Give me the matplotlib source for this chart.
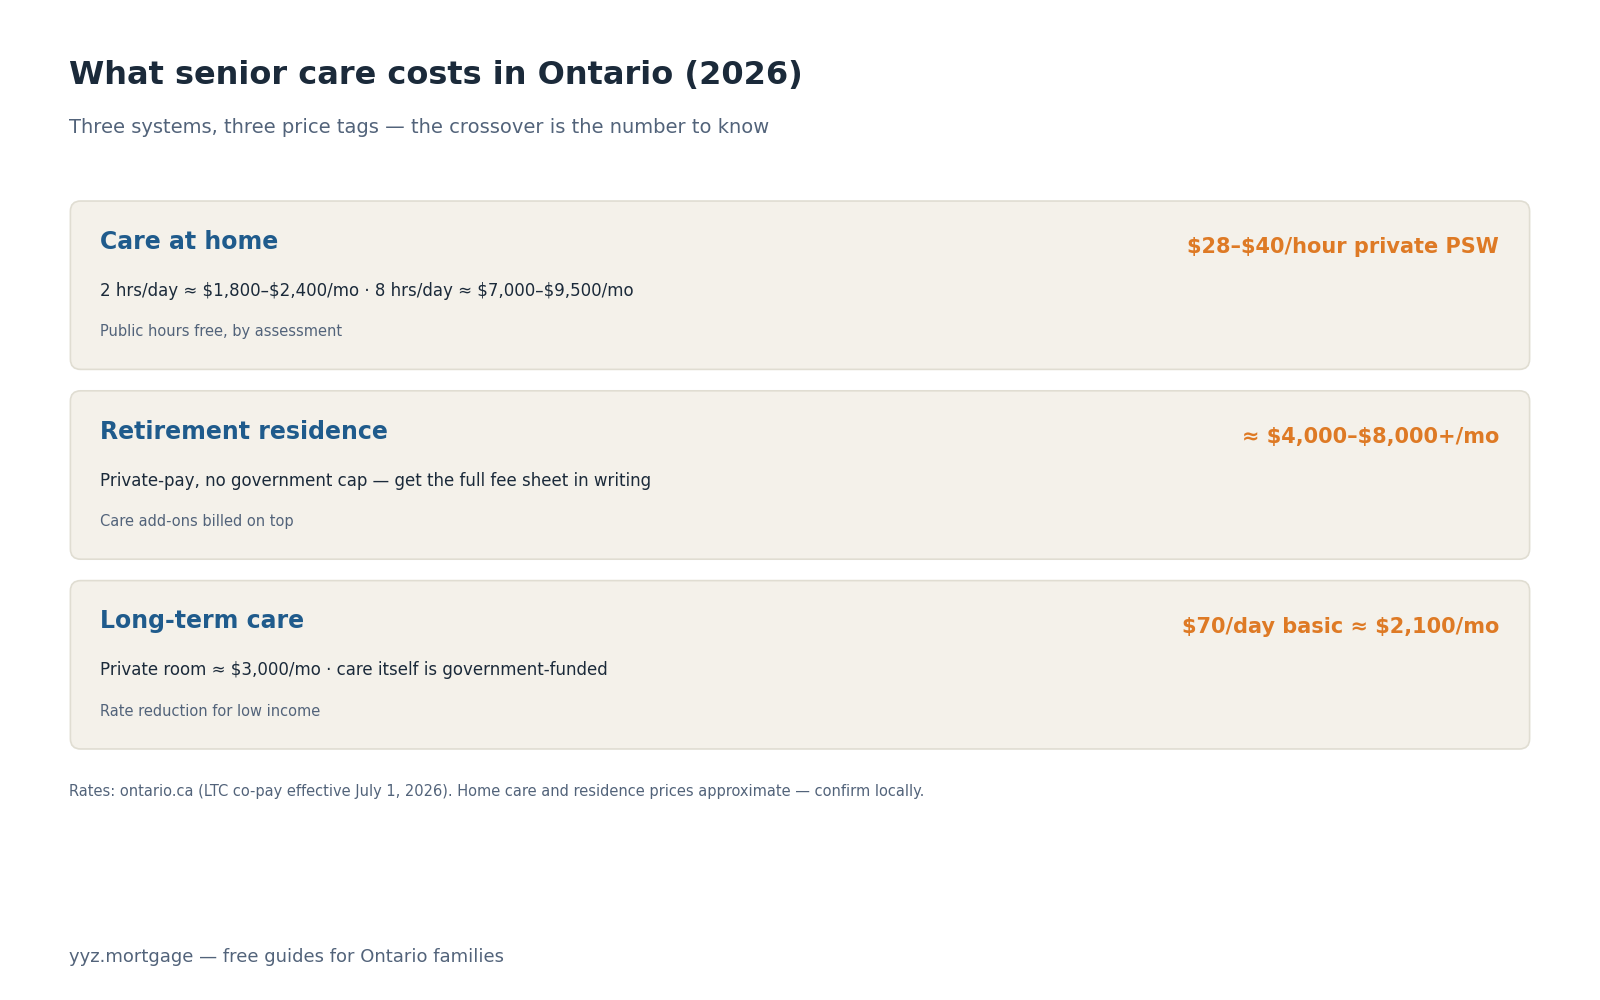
import matplotlib
matplotlib.use("Agg")
import matplotlib.pyplot as plt
from matplotlib.patches import FancyBboxPatch

plt.rcParams['font.family'] = ['DejaVu Sans']
plt.rcParams['text.parse_math'] = False

title = "What senior care costs in Ontario (2026)"
subtitle = "Three systems, three price tags — the crossover is the number to know"
names = ["Care at home", "Retirement residence", "Long-term care"]
prices = ["$28–$40/hour private PSW", "≈ $4,000–$8,000+/mo", "$70/day basic ≈ $2,100/mo"]
details = ["2 hrs/day ≈ $1,800–$2,400/mo · 8 hrs/day ≈ $7,000–$9,500/mo",
           "Private-pay, no government cap — get the full fee sheet in writing",
           "Private room ≈ $3,000/mo · care itself is government-funded"]
notes = ["Public hours free, by assessment", "Care add-ons billed on top", "Rate reduction for low income"]
source = "Rates: ontario.ca (LTC co-pay effective July 1, 2026). Home care and residence prices approximate — confirm locally."
brand = "yyz.mortgage — free guides for Ontario families"

W, H = 1568, 980
fig = plt.figure(figsize=(16, 10), dpi=100)
ax = fig.add_axes([0, 0, 1, 1])
ax.set_xlim(0, W); ax.set_ylim(H, 0); ax.axis("off")

dark = "#1b2a3a"; grey = "#52637a"; blue = "#1f5b8c"; orange = "#de7a25"
ax.text(68, 74, title, fontsize=23, fontweight="bold", color=dark, va="center")
ax.text(68, 125, subtitle, fontsize=14, color=grey, va="center")

for i, (n, p, d, s) in enumerate(zip(names, prices, details, notes)):
    top = 197 + i * 186
    ax.add_patch(FancyBboxPatch((69, top), 1430, 165, boxstyle="round,pad=0,rounding_size=10",
                                fc="#f4f1ea", ec="#e0ddd2", lw=1.2))
    ax.text(98, top + 40, n, fontsize=17, fontweight="bold", color=blue, va="center")
    ax.text(1469, top + 45, p, fontsize=15, fontweight="bold", color=orange, va="center", ha="right")
    ax.text(98, top + 88, d, fontsize=12, color=dark, va="center")
    ax.text(98, top + 128, s, fontsize=10.5, color=grey, va="center")

ax.text(68, 776, source, fontsize=10.5, color=grey, va="center")
ax.text(68, 938, brand, fontsize=13, color=grey, va="center")
fig.savefig("out.png", dpi=100, facecolor="white")
